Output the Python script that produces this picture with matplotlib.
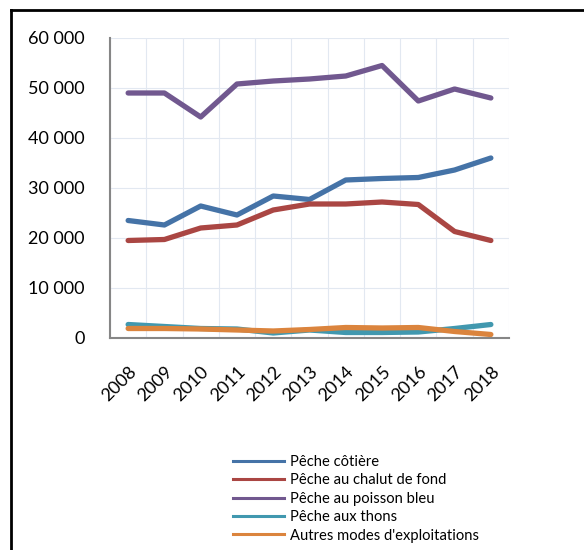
import matplotlib.pyplot as plt
from matplotlib.lines import Line2D
from matplotlib.ticker import FuncFormatter, MultipleLocator

plt.rcParams['font.family'] = ['Lato', 'DejaVu Sans']

years = [2008, 2009, 2010, 2011, 2012, 2013, 2014, 2015, 2016, 2017, 2018]

cotiere = [23500, 22600, 26400, 24600, 28400, 27700, 31600, 31900, 32100, 33600, 36000]
chalut = [19500, 19700, 22000, 22600, 25600, 26800, 26800, 27200, 26700, 21300, 19500]
poisson_bleu = [49000, 49000, 44200, 50800, 51400, 51800, 52400, 54500, 47400, 49800, 48000]
thons = [2700, 2300, 1900, 1800, 1000, 1600, 1100, 1100, 1200, 1900, 2700]
autres = [1900, 1900, 1800, 1600, 1400, 1700, 2100, 2000, 2100, 1300, 700]

series = [
    ("Pêche côtière", cotiere, '#4573A7'),
    ("Pêche au chalut de fond", chalut, '#AA4643'),
    ("Pêche au poisson bleu", poisson_bleu, '#71588F'),
    ("Pêche aux thons", thons, '#4198AF'),
    ("Autres modes d'exploitations", autres, '#DB843D'),
]

fig = plt.figure(figsize=(5.84, 5.5), dpi=100)
ax = fig.add_axes([110 / 584, 1 - 338 / 550, 399 / 584, 300 / 550])

x = list(range(len(years)))
for name, vals, color in series:
    ax.plot(x, vals, color=color, linewidth=3.8, solid_capstyle='round',
            solid_joinstyle='round')

ax.set_xlim(-0.5, len(years) - 0.5)
ax.set_ylim(0, 60000)
ax.yaxis.set_major_locator(MultipleLocator(10000))
ax.yaxis.set_major_formatter(FuncFormatter(lambda v, p: f"{int(v):,}".replace(',', ' ')))

ax.set_xticks(x)
ax.set_xticklabels([str(y) for y in years], rotation=45, ha='right', va='top',
                   rotation_mode='anchor', fontsize=13)
ax.set_xticks([i - 0.5 for i in range(len(years) + 1)], minor=True)
ax.tick_params(axis='x', which='both', length=0, pad=18)
ax.tick_params(axis='y', length=0, labelsize=13, pad=18)

ax.grid(axis='y', which='major', color='#E2E8F1', linewidth=0.8)
ax.grid(axis='x', which='minor', color='#E2E8F1', linewidth=0.8)
ax.set_axisbelow(True)

for side in ['top', 'right']:
    ax.spines[side].set_visible(False)
for side in ['left', 'bottom']:
    ax.spines[side].set_color('#868686')
    ax.spines[side].set_linewidth(1.5)

# legend with thinner sample lines than the plotted series
handles = [Line2D([], [], color=c, linewidth=2.2) for _, _, c in series]
labels = [n for n, _, _ in series]
fig.legend(handles, labels, loc='upper left', bbox_to_anchor=(227 / 584, 1 - 449 / 550),
           frameon=False, fontsize=10.6, handlelength=3.5, handletextpad=0.4,
           labelspacing=0.3, borderaxespad=0)

# outer frame (left and top edges visible in the crop)
fig.add_artist(Line2D([11 / 584, 11 / 584], [0, 1 - 10 / 550], color='black', linewidth=2))
fig.add_artist(Line2D([11 / 584, 1], [1 - 10 / 550, 1 - 10 / 550], color='black', linewidth=2))

fig.savefig('out.png', dpi=100)
